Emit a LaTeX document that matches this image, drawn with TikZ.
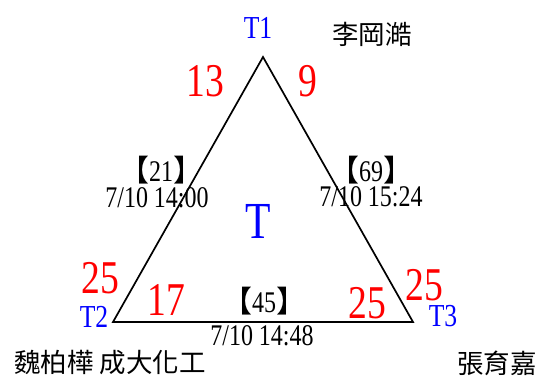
\documentclass[tikz,border=0pt]{standalone}
\usepackage{fontspec}
\setmainfont{Liberation Serif}[FakeStretch=0.8]
\newfontfamily\cjk{Noto Sans CJK TC}
\tikzset{
  num/.style={text=red, font=\fontsize{47}{47}\selectfont, inner sep=0pt},
  vlab/.style={text=blue, font=\fontsize{32}{32}\selectfont, inner sep=0pt},
  info/.style={text=black, font=\fontsize{30}{30}\selectfont, inner sep=0pt},
  who/.style={text=black, font=\cjk\fontsize{26.5}{26.5}\selectfont, inner sep=0pt},
  edge/.style={draw=black, line width=1.7pt, line join=miter}
}
\newcommand{\lb}{{\cjk 【}}
\newcommand{\rb}{{\cjk 】}}
\begin{document}
\begin{tikzpicture}[x=1pt,y=-1pt]
\useasboundingbox (0,0) rectangle (540,376);
\coordinate (A) at (263,57);
\coordinate (B) at (113,322);
\coordinate (C) at (413,322);
\draw[edge] (A) -- (B) -- (C) -- cycle;
% vertices
\node[vlab] (t1) at (258,28) {T1};
\node[vlab] (t2) at (94,317) {T2};
\node[vlab] (t3) at (443,316) {T3};
\node[text=blue, font=\fontsize{52}{52}\selectfont, inner sep=0pt] (tc) at (258,221) {T};
% numbers
\node[num] (n13) at (205,81) {13};
\node[num] (n9) at (308,81) {9};
\node[num] (n25a) at (100,278) {25};
\node[num] (n17) at (166,300) {17};
\node[num] (n25b) at (367,303) {25};
\node[num] (n25c) at (424,285) {25};
% edge info
\node[info] (e1a) at (161,170) {\lb 21\rb};
\node[info] (e1b) at (157,198) {7/10 14:00};
\node[info] (e2a) at (371,170) {\lb 69\rb};
\node[info] (e2b) at (371,197) {7/10 15:24};
\node[info] (e3a) at (264,301) {\lb 45\rb};
\node[info] (e3b) at (262,336) {7/10 14:48};
% names
\node[who] (p1) at (372,34) {李岡澔};
\node[who] (p2) at (110,363) {魏柏樺 成大化工};
\node[who] (p3) at (497,363) {張育嘉};
\end{tikzpicture}
\end{document}
